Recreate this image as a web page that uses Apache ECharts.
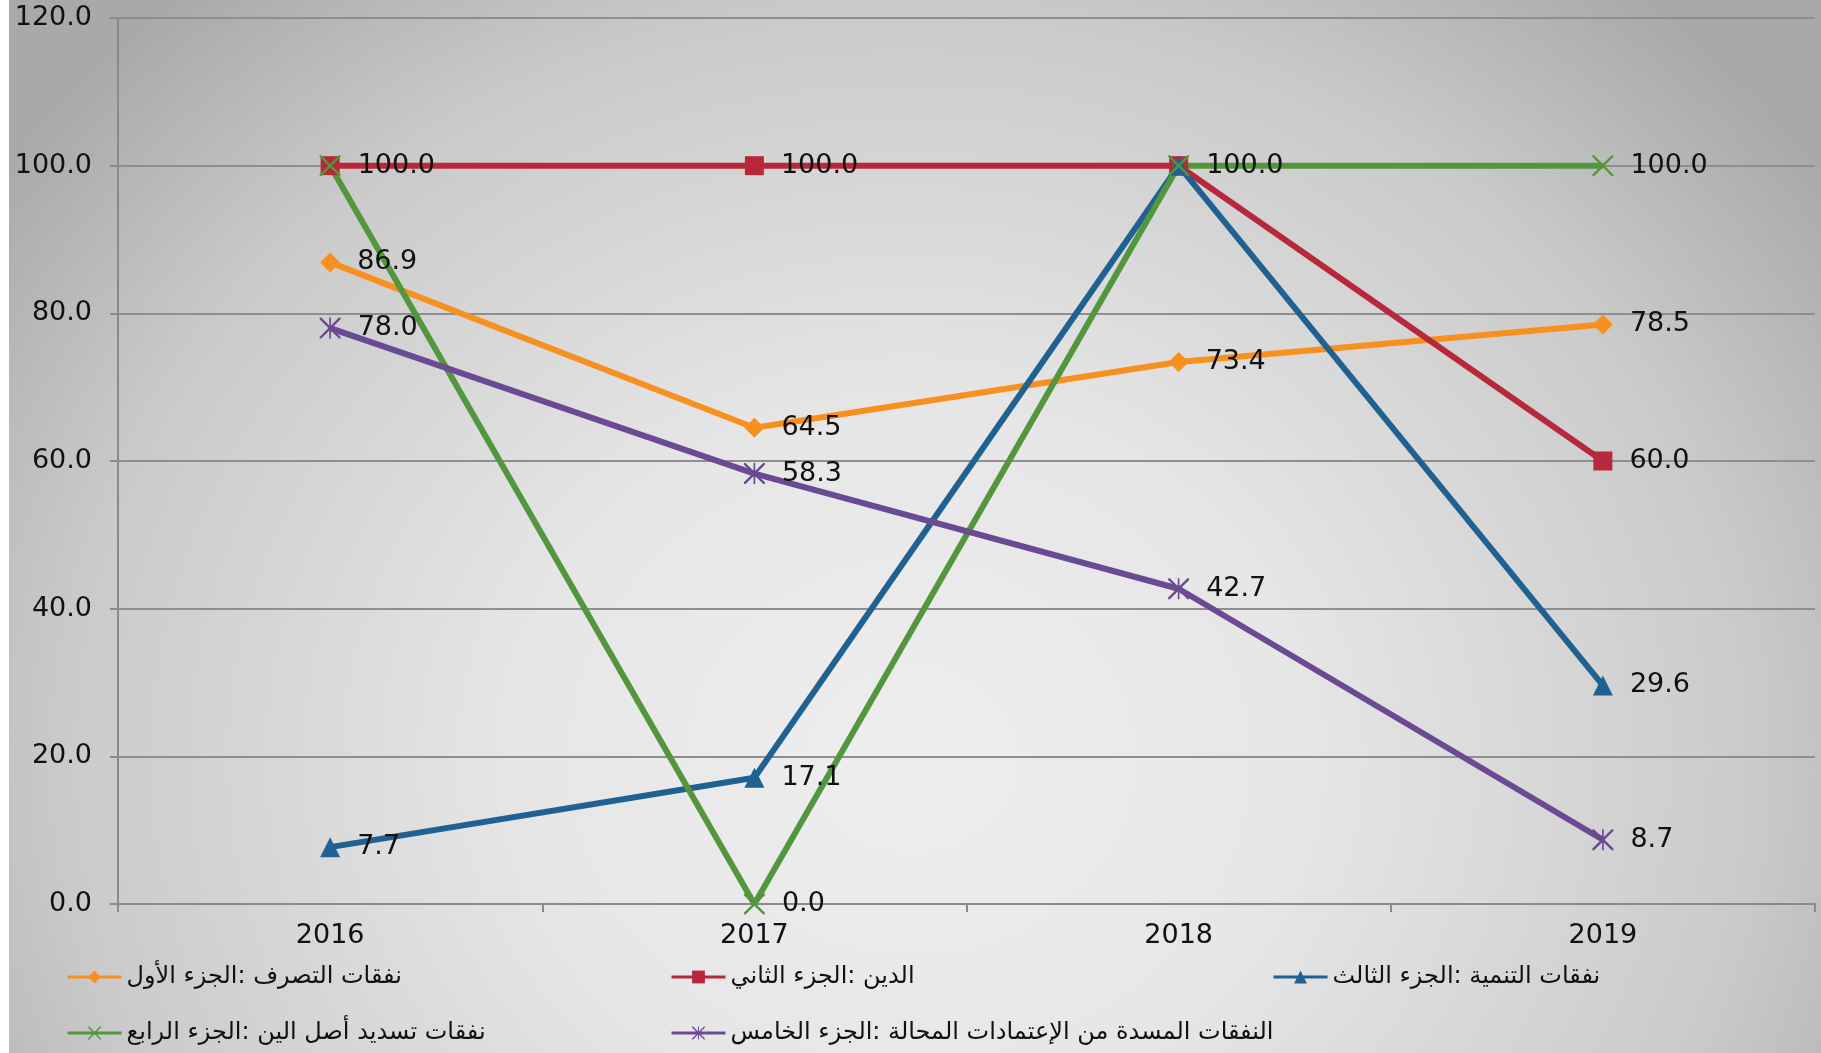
<!DOCTYPE html>
<html>
<head>
<meta charset="utf-8">
<title>Chart</title>
<script src="https://cdn.jsdelivr.net/npm/echarts@6/dist/echarts.min.js"></script>
<style>
  html, body { margin: 0; padding: 0; background: #fff; }
  #chart {
    width: 1821px; height: 1053px;
    background:
      linear-gradient(to right, #fff 0, #fff 9px, transparent 9px),
      radial-gradient(ellipse 62% 95% at 50% 72%, #eeeeee 0%, #e6e6e6 35%, #cacaca 75%, #a9a9a9 100%);
  }
</style>
</head>
<body>
<div id="chart"></div>
<script>
// categories and values
var years = ['2016', '2017', '2018', '2019'];
var names = [
  'نفقات التصرف :الجزء الأول',
  'الدين :الجزء الثاني',
  'نفقات التنمية :الجزء الثالث',
  'نفقات تسديد أصل الين :الجزء الرابع',
  'النفقات المسدة من الإعتمادات المحالة :الجزء الخامس'
];
var part1 = [86.9, 64.5, 73.4, 78.5];
var part2 = [100.0, 100.0, 100.0, 60.0];
var part3 = [7.7, 17.1, 100.0, 29.6];
var part4 = [100.0, 0.0, 100.0, 100.0];
var part5 = [78.0, 58.3, 42.7, 8.7];

var colors = ['#f7901e', '#b8283b', '#1f6190', '#52963d', '#6a4a92'];

// marker shapes (thin crosses drawn as filled paths)
var crossPath = 'path://M0,0 L1.6,0 L10,8.4 L18.4,0 L20,0 L20,1.6 L11.6,10 L20,18.4 L20,20 L18.4,20 L10,11.6 L1.6,20 L0,20 L0,18.4 L8.4,10 L0,1.6 Z';
var starPath = crossPath + ' M9.2,0 L10.8,0 L10.8,20 L9.2,20 Z';
var symbols = ['diamond', 'rect', 'triangle', crossPath, starPath];
var symbolSizes = [20, 19, 20, 21, 21];
var seriesData = [part1, part2, part3, part4, part5];

var font = 'DejaVu Sans';

var series = seriesData.map(function (d, i) {
  return {
    name: names[i],
    type: 'line',
    data: d,
    symbol: symbols[i],
    symbolSize: symbolSizes[i],
    showAllSymbol: true,
    lineStyle: { width: 6, color: colors[i] },
    itemStyle: { color: colors[i] },
    label: {
      show: true,
      position: 'right',
      distance: 17,
      color: '#111',
      fontFamily: font,
      fontSize: 27,
      formatter: function (p) { return p.value.toFixed(1); }
    },
    labelLayout: { hideOverlap: true },
    emphasis: { disabled: true },
    animation: false
  };
});

// legend slots
var legendLeft = [66, 670, 1272, 66, 670];
var legendTop = [965, 965, 965, 1021, 1021];
var legends = names.map(function (n, i) {
  return {
    data: [n],
    left: legendLeft[i],
    top: legendTop[i],
    padding: 0,
    itemWidth: 54,
    itemHeight: 16,
    itemGap: 10,
    lineStyle: { width: 3 },
    textStyle: { color: '#111', fontSize: 24, fontFamily: font }
  };
});

var myChart = echarts.init(document.getElementById('chart'), null, { renderer: 'canvas' });

var option = {
  backgroundColor: 'transparent',
  animation: false,
  legend: legends,
  grid: { left: 118, right: 6, top: 18, bottom: 149, containLabel: false },
  xAxis: {
    type: 'category',
    data: years,
    boundaryGap: true,
    axisLine: { lineStyle: { color: '#8a8a8a', width: 2 } },
    axisTick: { show: true, length: 8, lineStyle: { color: '#8a8a8a', width: 2 } },
    axisLabel: { color: '#111', fontFamily: font, fontSize: 27, margin: 18 }
  },
  yAxis: {
    type: 'value',
    min: 0, max: 120, interval: 20,
    axisLine: { show: true, lineStyle: { color: '#8a8a8a', width: 2 } },
    axisTick: { show: true, length: 8, lineStyle: { color: '#8a8a8a', width: 2 } },
    splitLine: { lineStyle: { color: '#8e8e8e', width: 2 } },
    axisLabel: {
      color: '#111', fontFamily: font, fontSize: 27, margin: 26,
      formatter: function (v) { return v.toFixed(1); }
    }
  },
  series: series
};

myChart.setOption(option);
window.onresize = function () { myChart.resize(); };
</script>
</body>
</html>
